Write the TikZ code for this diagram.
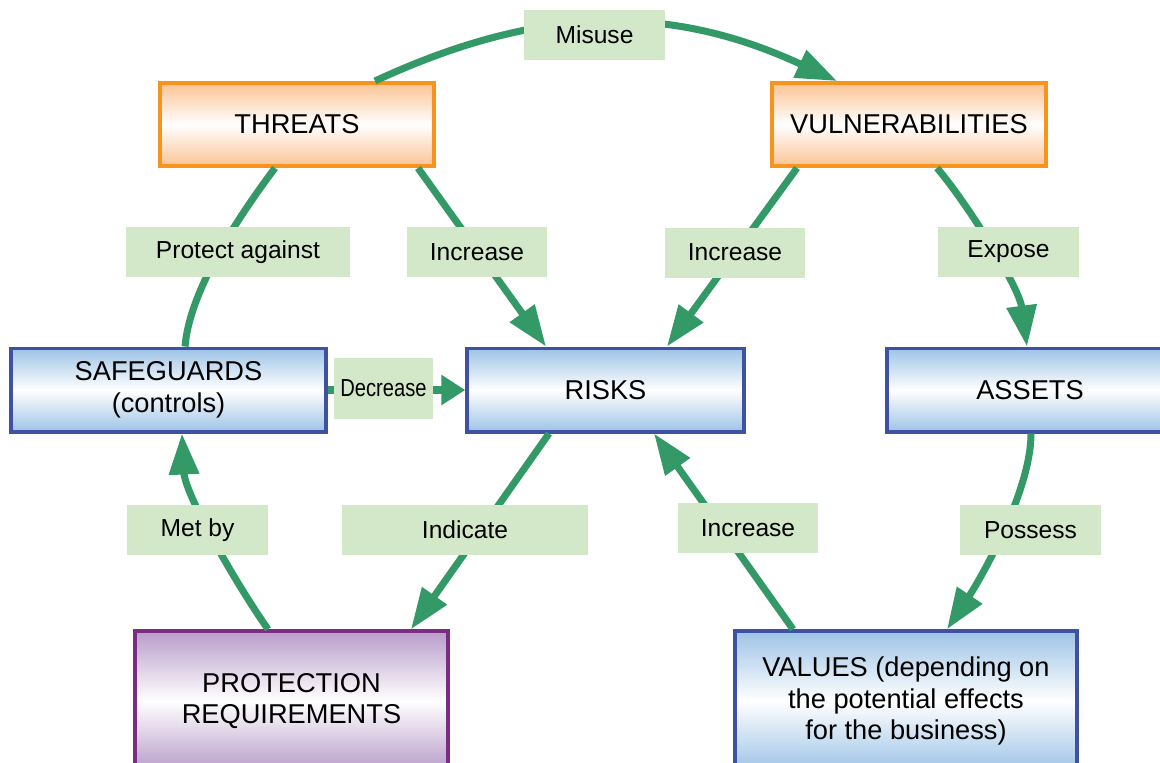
\documentclass[tikz,border=0pt]{standalone}
\usepackage{fontspec}
\setmainfont{Liberation Sans}
\usepackage{graphicx}
\usetikzlibrary{arrows.meta}
\definecolor{lineGreen}{HTML}{339966}
\definecolor{lblGreen}{HTML}{D3E8C9}
\definecolor{orgLine}{HTML}{F7941D}
\definecolor{orgFill}{HTML}{FBC393}
\definecolor{bluLine}{HTML}{3F51A3}
\definecolor{bluFill}{HTML}{9DC3E6}
\definecolor{purLine}{HTML}{7B2C83}
\definecolor{purFill}{HTML}{B89CC9}

\begin{document}
\begin{tikzpicture}[x=0.02cm, y=-0.02cm,
    every node/.style={font=\fontsize{14}{17}\selectfont},
    box/.style={line width=2pt, minimum height=1.67cm, align=center, font=\fontsize{15.5}{18}\selectfont},
    orgbox/.style={box, draw=orgLine, top color=orgFill, bottom color=orgFill, middle color=white},
    blubox/.style={box, draw=bluLine, top color=bluFill, bottom color=bluFill, middle color=white},
    purbox/.style={box, draw=purLine, top color=purFill, bottom color=purFill, middle color=white},
    lbl/.style={fill=lblGreen, minimum width=2.82cm, minimum height=1cm, inner sep=0pt},
    link/.style={draw=lineGreen, line width=4pt},
    headed/.style={-{Triangle[length=0.82cm, width=0.58cm]}}]
    \useasboundingbox (0,0) rectangle (1160,762);
    \clip (0,0) rectangle (1160,762);

    \node[orgbox, minimum width=5.48cm] (thr) at (297,124.5) {THREATS};
    \node[orgbox, minimum width=5.48cm] (vul) at (909,124.5) {VULNERABILITIES};
    \node[blubox, minimum width=6.3cm] (saf) at (168.5,390) {SAFEGUARDS\\(controls)};
    \node[blubox, minimum width=5.54cm] (risk) at (605.5,390) {RISKS};
    \node[blubox, minimum width=5.72cm] (ass) at (1030,390) {ASSETS};
    \node[purbox, minimum width=6.26cm, minimum height=2.8cm] (prot) at (291.5,701) {PROTECTION\\REQUIREMENTS};
    \node[blubox, minimum width=6.84cm, minimum height=2.8cm] (val) at (906,701) {VALUES (depending on\\the potential effects\\for the business)};

    \draw[link, headed] ([xshift=1.56cm]thr.north) .. controls +(166,-77) and +(-166,-77) .. ([xshift=-1.44cm]vul.north);
    \draw[link] ([xshift=-0.44cm]thr.south) .. controls +(-30,40) and +(5,-60) .. ([xshift=0.33cm]saf.north);
    \draw[link, headed] ([xshift=-0.47cm]prot.north) .. controls +(-35,-50) and +(3,60) .. ([xshift=0.27cm]saf.south);
    \draw[link, headed] ([xshift=0.56cm]vul.south) .. controls +(30,35) and +(-8,-60) .. ([xshift=-0.06cm]ass.north);
    \draw[link, headed] ([xshift=0.02cm]ass.south) .. controls +(0,60) and +(30,-45) .. ([xshift=0.82cm]val.north);
    \draw[link, headed] ([xshift=2.42cm]thr.south) -- ([xshift=-1.19cm]risk.north);
    \draw[link, headed] ([xshift=-2.24cm]vul.south) -- ([xshift=1.23cm]risk.north);
    \draw[link, headed] ([xshift=-1.13cm]risk.south) -- ([xshift=2.39cm]prot.north);
    \draw[link, headed] ([xshift=-2.26cm]val.north) -- ([xshift=0.97cm]risk.south);
    \draw[link, -{Triangle[length=0.48cm, width=0.58cm]}] (saf) -- (risk);

    \node[lbl] (mis) at (594.5,35) {Misuse};
    \node[lbl, minimum width=4.48cm] (pa) at (238,252) {Protect against};
    \node[lbl] (incA) at (477,252) {Increase};
    \node[lbl] (incB) at (735,252.5) {Increase};
    \node[lbl] (exp) at (1008.5,252) {Expose};
    \node[lbl, minimum width=1.98cm, minimum height=1.22cm] (dec) at (383.5,388.5) {\scalebox{0.82}[1]{Decrease}};
    \node[lbl] (met) at (197.5,530) {Met by};
    \node[lbl, minimum width=4.92cm] (ind) at (465,530) {Indicate};
    \node[lbl] (incC) at (748,528) {Increase};
    \node[lbl] (pos) at (1030.5,530) {Possess};
  \end{tikzpicture}
\end{document}
